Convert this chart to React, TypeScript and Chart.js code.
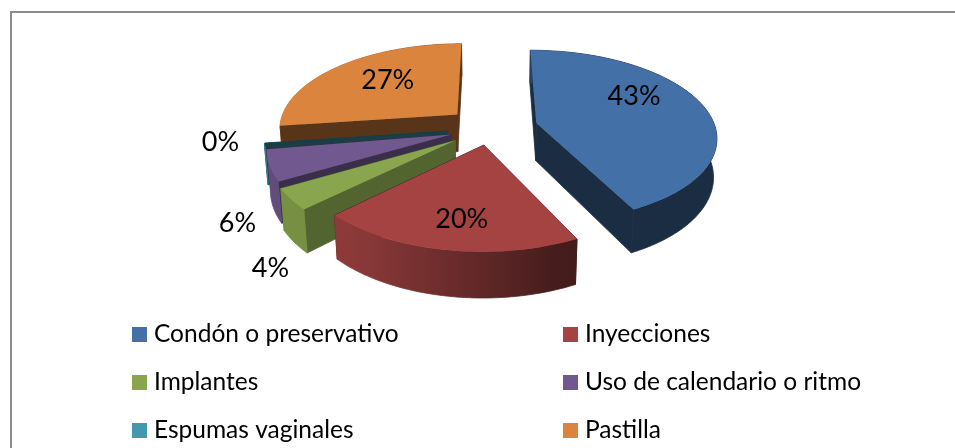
import React, { useEffect, useRef } from "react";
import { Chart, registerables } from "chart.js";

Chart.register(...registerables);

const categories = ["Condón o preservativo", "Inyecciones", "Implantes", "Uso de calendario o ritmo", "Espumas vaginales", "Pastilla"];
const values = [42.7, 20, 3.9, 5.7, 0.45, 27.15];
const colors = ["#4470A8", "#A54343", "#89A64E", "#71588F", "#4198AF", "#DB843D"];
const explodePx = [53, 39, 47, 45, 47, 49];
const sideShade = [0.4, 0.4, 0.6, 0.52, 0.4, 0.4];
const paintOrder = [5, 4, 3, 2, 0, 1];
// label placement relative to each slice: radius fraction, angle shift in degrees
const labelRadius = [0.68, 0.74, 1.42, 1.33, 1.24, 0.63];
const labelTurn = [-16.5, -2, -19, -22, 2.5, 5];

const VIEW = { cx: 490, cy: 128, a: 179, b: 85, k: 0.15, depth: 38, squeeze: 0.015 };
const FONT = "Lato, Carlito, sans-serif";

function project(u: number, v: number, down: boolean) {
  const w = 1 + VIEW.k * v;
  const wx = down ? w + VIEW.squeeze : w;
  return {
    x: VIEW.cx + (VIEW.a * u) / wx,
    y: VIEW.cy - (VIEW.b * v) / w + (down ? VIEW.depth / w : 0),
  };
}

function shadeRgb(hex: string, f: number) {
  const n = parseInt(hex.slice(1), 16);
  const c = [(n >> 16) & 255, (n >> 8) & 255, n & 255].map((x) => Math.round(x * f));
  return `rgb(${c[0]},${c[1]},${c[2]})`;
}

function poly(ctx: CanvasRenderingContext2D, pts: { x: number; y: number }[], fill: any, seal = false) {
  ctx.beginPath();
  pts.forEach((p, i) => (i ? ctx.lineTo(p.x, p.y) : ctx.moveTo(p.x, p.y)));
  ctx.closePath();
  ctx.fillStyle = fill;
  ctx.fill();
  if (seal) {
    ctx.strokeStyle = fill;
    ctx.lineWidth = 0.8;
    ctx.stroke();
  }
}

const pie3d = {
  id: "pie3d",
  beforeDatasetDraw() {
    return false;
  },
  afterDatasetsDraw(chart: any) {
    const ctx: CanvasRenderingContext2D = chart.ctx;
    const arcs = chart.getDatasetMeta(0).data;
    const total = values.reduce((s, x) => s + x, 0);

    const apexOf = (arc: any) => {
      const mid = (arc.startAngle + arc.endAngle) / 2;
      const e = arc.options.offset / arc.outerRadius;
      return { u: e * Math.cos(mid), v: -e * Math.sin(mid), mid };
    };

    paintOrder.forEach((i) => {
      const arc = arcs[i];
      const { u: u0, v: v0 } = apexOf(arc);
      const span = arc.endAngle - arc.startAngle;
      const steps = Math.max(2, Math.ceil(span / 0.025));
      const rim: { u: number; v: number }[] = [];
      for (let s = 0; s <= steps; s++) {
        const t = arc.startAngle + (span * s) / steps;
        rim.push({ u: u0 + Math.cos(t), v: v0 - Math.sin(t) });
      }
      const first = rim[0];
      const last = rim[rim.length - 1];
      const sideColor = shadeRgb(colors[i], sideShade[i]);
      const faces: { order: number; pts: { x: number; y: number }[]; fill: any }[] = [];
      [first, last].forEach((p) => {
        faces.push({
          order: (p.v + v0) / 2,
          pts: [project(u0, v0, false), project(p.u, p.v, false), project(p.u, p.v, true), project(u0, v0, true)],
          fill: sideColor,
        });
      });
      // outer wall as one band, lit from the left
      const gx0 = project(u0 - 1, v0, false).x;
      const gx1 = project(u0 + 1, v0, false).x;
      const grad = ctx.createLinearGradient(gx0, 0, gx1, 0);
      for (let g = 0; g <= 10; g++) {
        const nu = -1 + g / 5;
        grad.addColorStop(g / 10, shadeRgb(colors[i], Math.min(0.86, Math.max(0.4, 0.58 - 0.39 * nu))));
      }
      faces.push({
        order: rim.reduce((s, p) => s + p.v, 0) / rim.length,
        pts: [...rim.map((p) => project(p.u, p.v, false)), ...rim.slice().reverse().map((p) => project(p.u, p.v, true))],
        fill: grad,
      });
      faces.sort((a, b) => b.order - a.order).forEach((f) => poly(ctx, f.pts, f.fill, true));
      poly(ctx, [project(u0, v0, false), ...rim.map((p) => project(p.u, p.v, false))], span < 0.05 ? sideColor : colors[i]);
    });

    ctx.fillStyle = "#000";
    ctx.font = `27px ${FONT}`;
    ctx.textAlign = "center";
    ctx.textBaseline = "middle";
    arcs.forEach((arc: any, i: number) => {
      const { u: u0, v: v0, mid } = apexOf(arc);
      const t = mid + (labelTurn[i] * Math.PI) / 180;
      const p = project(u0 + labelRadius[i] * Math.cos(t), v0 - labelRadius[i] * Math.sin(t), false);
      ctx.fillText(`${Math.round((values[i] / total) * 100)}%`, p.x, p.y);
    });
  },
  afterDraw(chart: any) {
    const ctx: CanvasRenderingContext2D = chart.ctx;
    ctx.font = `24.5px ${FONT}`;
    ctx.textAlign = "left";
    ctx.textBaseline = "middle";
    categories.forEach((name, i) => {
      const col = i % 2;
      const row = Math.floor(i / 2);
      const x = col ? 563 : 132;
      const y = 334 + row * 48;
      ctx.fillStyle = colors[i];
      ctx.fillRect(x, y - 7, 15, 15);
      ctx.fillStyle = "#000";
      ctx.fillText(name, x + 22, y);
    });
  },
};

export default function App() {
  const ref = useRef<HTMLCanvasElement>(null);
  useEffect(() => {
    document.body.style.margin = "0";
    const chart = new Chart(ref.current!, {
      type: "pie",
      data: {
        labels: categories,
        datasets: [{ data: values, backgroundColor: colors, offset: explodePx, borderWidth: 0 }],
      },
      options: {
        responsive: false,
        animation: false,
        plugins: { legend: { display: false }, tooltip: { enabled: false } },
      } as any,
      plugins: [pie3d],
    });
    return () => chart.destroy();
  }, []);
  return (
    <div style={{ position: "relative", width: 955, height: 448, overflow: "hidden", background: "#fff" }}>
      <canvas ref={ref} width={955} height={448} style={{ display: "block" }} />
      <div
        style={{
          position: "absolute",
          left: 10,
          top: 11,
          width: 960,
          height: 460,
          borderLeft: "2px solid #8c8c8c",
          borderTop: "2px solid #8c8c8c",
          pointerEvents: "none",
        }}
      />
    </div>
  );
}
